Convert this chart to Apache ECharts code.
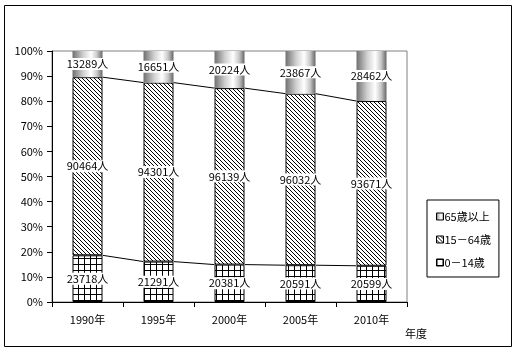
<!DOCTYPE html>
<html>
<head>
<meta charset="utf-8">
<script src="https://cdn.jsdelivr.net/npm/echarts@6/dist/echarts.min.js"></script>
<style>
html,body{margin:0;padding:0;background:#fff;}
#main{width:518px;height:352px;}
</style>
</head>
<body>
<div id="main"></div>
<script>
// 年度
var years = ['1990年', '1995年', '2000年', '2005年', '2010年'];
// 人口(人)
var child = [23718, 21291, 20381, 20591, 20599];   // 0－14歳
var worker = [90464, 94301, 96139, 96032, 93671];  // 15－64歳
var elder = [13289, 16651, 20224, 23867, 28462];   // 65歳以上
var yTicks = [0, 10, 20, 30, 40, 50, 60, 70, 80, 90, 100];

var fontName = '"Noto Sans CJK JP", "DejaVu Sans", sans-serif';
var barW = 30;

// 百分率に変換
var total = [], pChild = [], pWorker = [], pElder = [];
for (var i = 0; i < years.length; i++) {
	total[i] = child[i] + worker[i] + elder[i];
	pChild[i] = child[i] / total[i] * 100;
	pWorker[i] = worker[i] / total[i] * 100;
	pElder[i] = elder[i] / total[i] * 100;
}

// 模様
function gridPattern() {
	var c = document.createElement('canvas');
	c.width = 6; c.height = 6;
	var ctx = c.getContext('2d');
	ctx.fillStyle = '#fff';
	ctx.fillRect(0, 0, 6, 6);
	ctx.fillStyle = '#000';
	ctx.fillRect(0, 0, 6, 1);
	ctx.fillRect(0, 0, 1, 6);
	return c;
}
function hatchPattern() {
	var c = document.createElement('canvas');
	c.width = 4; c.height = 4;
	var ctx = c.getContext('2d');
	ctx.fillStyle = '#fff';
	ctx.fillRect(0, 0, 4, 4);
	ctx.fillStyle = '#000';
	for (var k = 0; k < 4; k++) ctx.fillRect(k, k, 1, 1);
	return c;
}
var gradElder = new echarts.graphic.LinearGradient(0, 0, 1, 0, [
	{offset: 0, color: '#707070'},
	{offset: 0.35, color: '#cfcfcf'},
	{offset: 0.62, color: '#ffffff'},
	{offset: 0.82, color: '#c8c8c8'},
	{offset: 1, color: '#666666'}
]);

function lbl(raw) {
	return {
		show: true,
		position: 'inside',
		color: '#000',
		fontFamily: fontName,
		fontSize: 11,
		backgroundColor: '#fff',
		padding: [1, 1, 0, 1],
		formatter: function (p) { return raw[p.dataIndex] + '人'; }
	};
}

// 系列線 (区分線)
function joinLine(vals) {
	var d = [];
	for (var i = 0; i < vals.length - 1; i++) d.push([i, vals[i], vals[i + 1]]);
	return d;
}
var cumChild = pChild.slice();
var cumWorker = pChild.map(function (v, i) { return v + pWorker[i]; });

function renderJoin(params, api) {
	var i = api.value(0);
	var a = api.coord([i, api.value(1)]);
	var b = api.coord([i + 1, api.value(2)]);
	return {
		type: 'line',
		shape: {x1: a[0] + barW / 2, y1: a[1], x2: b[0] - barW / 2, y2: b[1]},
		style: {stroke: '#000', lineWidth: 1}
	};
}

var chart = echarts.init(document.getElementById('main'));
var option = {
	backgroundColor: '#fff',
	animation: false,
	textStyle: {fontFamily: fontName},
	grid: {left: 52, top: 51, right: 111, bottom: 50, show: true, borderColor: '#808080', borderWidth: 1},
	legend: {
		orient: 'vertical',
		left: 427,
		top: 200,
		padding: [11, 8, 9, 9],
		itemGap: 12,
		itemWidth: 7,
		itemHeight: 7,
		icon: 'rect',
		borderColor: '#000',
		borderWidth: 1,
		itemStyle: {borderColor: '#000', borderWidth: 1},
		textStyle: {fontFamily: fontName, fontSize: 11, color: '#000', padding: [0, 0, 0, -4]},
		data: ['65歳以上', '15－64歳', '0－14歳']
	},
	xAxis: {
		type: 'category',
		data: years,
		axisLine: {lineStyle: {color: '#000'}},
		axisTick: {show: true, length: 5, lineStyle: {color: '#000'}},
		axisLabel: {color: '#000', fontSize: 11, fontFamily: fontName, margin: 12}
	},
	yAxis: {
		type: 'value',
		min: yTicks[0],
		max: yTicks[yTicks.length - 1],
		interval: 10,
		splitLine: {show: false},
		axisLine: {show: true, lineStyle: {color: '#000'}},
		axisTick: {show: true, length: 5, lineStyle: {color: '#000'}},
		axisLabel: {color: '#000', fontSize: 11, fontFamily: fontName, margin: 9, formatter: '{value}%'}
	},
	graphic: [
		{type: 'rect', shape: {x: 4.5, y: 5.5, width: 507, height: 341}, style: {fill: null, stroke: '#000', lineWidth: 1}, z: 100},
		{type: 'text', left: 405, top: 328, style: {text: '年度', font: '11px ' + fontName, fill: '#000'}}
	],
	series: [
		{
			name: '0－14歳', type: 'bar', stack: 'pct', barWidth: barW,
			data: pChild,
			itemStyle: {color: {image: gridPattern(), repeat: 'repeat'}, borderColor: '#000', borderWidth: 1},
			label: lbl(child)
		},
		{
			name: '15－64歳', type: 'bar', stack: 'pct', barWidth: barW,
			data: pWorker,
			itemStyle: {color: {image: hatchPattern(), repeat: 'repeat'}, borderColor: '#000', borderWidth: 1},
			label: lbl(worker)
		},
		{
			name: '65歳以上', type: 'bar', stack: 'pct', barWidth: barW,
			data: pElder,
			itemStyle: {color: gradElder},
			label: lbl(elder)
		},
		{
			type: 'custom', renderItem: renderJoin, data: joinLine(cumChild), z: 5, silent: true
		},
		{
			type: 'custom', renderItem: renderJoin, data: joinLine(cumWorker), z: 5, silent: true
		}
	]
};
chart.setOption(option);
</script>
</body>
</html>
